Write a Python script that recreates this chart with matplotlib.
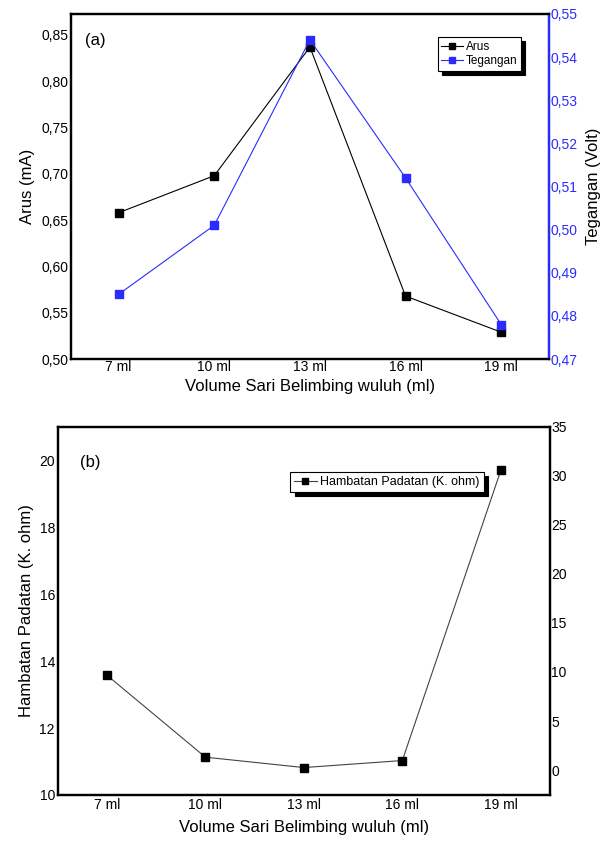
import matplotlib.pyplot as plt
from matplotlib.ticker import FixedLocator, FuncFormatter

plt.rcParams['font.family'] = ['Liberation Sans', 'DejaVu Sans']

volume = ['7 ml', '10 ml', '13 ml', '16 ml', '19 ml']
arus = [0.658, 0.698, 0.837, 0.568, 0.529]          # mA
tegangan = [0.485, 0.501, 0.544, 0.512, 0.478]      # Volt
hambatan = [13.58, 11.13, 10.82, 11.03, 19.70]      # K. ohm

arus_ticks = [0.50, 0.55, 0.60, 0.65, 0.70, 0.75, 0.80, 0.85]
teg_ticks = [0.47, 0.48, 0.49, 0.50, 0.51, 0.52, 0.53, 0.54, 0.55]
ham_ticks = [10, 12, 14, 16, 18, 20]
right_b_ticks = [0, 5, 10, 15, 20, 25, 30, 35]

BLUE = '#2b2bff'


def comma(dec):
    return FuncFormatter(lambda v, p: ('{:.%df}' % dec).format(v).replace('.', ','))


def style(ax, spine_w=1.6):
    for s in ax.spines.values():
        s.set_linewidth(spine_w)
    ax.tick_params(length=0, labelsize=10, pad=2)


fig = plt.figure(figsize=(6, 8.41), dpi=100)

# ---------- panel (a)
ax1 = fig.add_axes([0.118, 0.5731, 0.797, 0.4103])
x = list(range(len(volume)))
l1, = ax1.plot(x, arus, color='black', lw=0.8, marker='s', ms=5.5, label='Arus')
ax1.set_xlim(-0.5, 4.5)
ax1.set_ylim(0.50, 0.8727)
ax1.yaxis.set_major_locator(FixedLocator(arus_ticks))
ax1.yaxis.set_major_formatter(comma(2))
ax1.set_xticks(x)
ax1.set_xticklabels(volume)
ax1.set_ylabel('Arus (mA)', fontsize=12, labelpad=4)
ax1.set_xlabel('Volume Sari Belimbing wuluh (ml)', fontsize=12, labelpad=3)
style(ax1)
ax1.tick_params(axis='x', pad=1)
ax1.text(0.03, 0.945, '(a)', transform=ax1.transAxes, fontsize=12, va='top')

ax2 = ax1.twinx()
l2, = ax2.plot(x, tegangan, color=BLUE, lw=0.8, marker='s', ms=5.5, label='Tegangan')
ax2.set_ylim(0.47, 0.55)
ax2.yaxis.set_major_locator(FixedLocator(teg_ticks))
ax2.yaxis.set_major_formatter(comma(2))
ax2.set_ylabel('Tegangan (Volt)', fontsize=12, labelpad=6)
style(ax2)
ax2.spines['right'].set_color(BLUE)
ax2.tick_params(axis='y', colors=BLUE, labelsize=10, pad=1)
ax2.yaxis.label.set_color('black')

leg = ax2.legend(handles=[l1, l2], loc='upper left', bbox_to_anchor=(0.755, 0.95),
                 fontsize=8.5, frameon=True, fancybox=False, handlelength=1.8,
                 handletextpad=0.3, borderpad=0.3, labelspacing=0.2, markerscale=0.8,
                 shadow={'color': 'black', 'alpha': 1.0, 'ox': 3, 'oy': -3})
leg.get_frame().set_edgecolor('black')
leg.get_frame().set_linewidth(0.8)

# ---------- panel (b)
ax3 = fig.add_axes([0.0962, 0.0547, 0.8205, 0.4376])
l3, = ax3.plot(x, hambatan, color='#444444', lw=0.8, marker='s', ms=6,
               mfc='black', mec='black', label='Hambatan Padatan (K. ohm)')
ax3.set_xlim(-0.5, 4.5)
ax3.set_ylim(10, 21.0)
ax3.yaxis.set_major_locator(FixedLocator(ham_ticks))
ax3.set_xticks(x)
ax3.set_xticklabels(volume)
ax3.set_ylabel('Hambatan Padatan (K. ohm)', fontsize=12, labelpad=4)
ax3.set_xlabel('Volume Sari Belimbing wuluh (ml)', fontsize=12, labelpad=6)
style(ax3)
ax3.tick_params(axis='x', pad=2)
ax3.text(0.045, 0.925, '(b)', transform=ax3.transAxes, fontsize=12, va='top')

ax4 = ax3.twinx()
ax4.set_ylim(-2.55, 35)
ax4.yaxis.set_major_locator(FixedLocator(right_b_ticks))
style(ax4)
ax4.tick_params(axis='y', pad=1)

leg2 = ax3.legend(handles=[l3], loc='upper left', bbox_to_anchor=(0.46, 0.894),
                  fontsize=9, frameon=True, fancybox=False, handlelength=1.8,
                  handletextpad=0.3, borderpad=0.3, markerscale=0.7,
                  shadow={'color': 'black', 'alpha': 1.0, 'ox': 3, 'oy': -3})
leg2.get_frame().set_edgecolor('black')
leg2.get_frame().set_linewidth(0.8)

fig.savefig('out.png', dpi=100)
